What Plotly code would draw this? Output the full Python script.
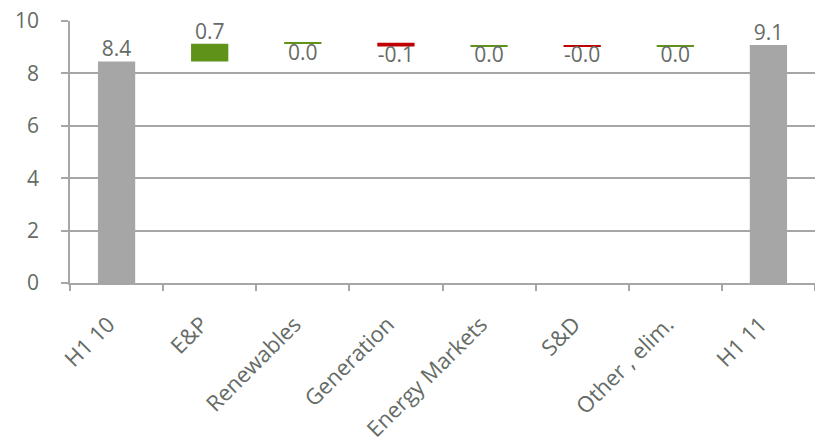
import numpy as np
import plotly.graph_objects as go

categories = ["H1 10", "E&P", "Renewables", "Generation", "Energy Markets", "S&D", "Other , elim.", "H1 11"]
values = [8.45, 0.68, 0.04, -0.14, 0.04, -0.03, 0.04, 9.08]
measures = ["absolute", "relative", "relative", "relative", "relative", "relative", "relative", "total"]

y_ticks = [0, 2, 4, 6, 8, 10]

GREY = "#a6a6a6"
GREEN = "#5f9219"
RED = "#c00000"
TEXT = "#656b66"
FONT = "Open Sans"

# compute bar extents for label placement
tops, bottoms = [], []
running = 0.0
for v, m in zip(values, measures):
    if m == "absolute":
        running = v
        tops.append(v); bottoms.append(0.0)
    elif m == "total":
        tops.append(running); bottoms.append(0.0)
    else:
        start = running
        running = running + v
        tops.append(max(start, running)); bottoms.append(min(start, running))

labels = [f"{v:.1f}" for v in values]

fig = go.Figure()
fig.add_trace(go.Waterfall(
    x=categories, y=values, measure=measures,
    width=0.4,
    increasing=dict(marker=dict(color=GREEN)),
    decreasing=dict(marker=dict(color=RED)),
    totals=dict(marker=dict(color=GREY)),
    connector=dict(visible=False),
    textposition="none",
    hoverinfo="skip",
))

# data labels: above the bar for large moves/totals, below for small moves
lab_y, lab_pos = [], []
for v, m, t, b in zip(values, measures, tops, bottoms):
    if m != "relative" or abs(v) >= 0.5:
        lab_y.append(t); lab_pos.append("top center")
    else:
        lab_y.append(b); lab_pos.append("bottom center")

fig.add_trace(go.Scatter(
    x=categories, y=lab_y, mode="text", text=labels,
    textposition=lab_pos,
    textfont=dict(family=FONT, size=21, color=TEXT),
    hoverinfo="skip", cliponaxis=False,
))

fig.update_layout(
    width=815, height=443,
    margin=dict(l=70, r=0, t=21, b=160, autoexpand=False),
    plot_bgcolor="white", paper_bgcolor="white",
    showlegend=False,
    font=dict(family=FONT, size=21, color=TEXT),
)
fig.update_xaxes(
    type="category",
    tickvals=categories,
    ticktext=[c + "\u00a0\u00a0" for c in categories],
    tickangle=-45,
    automargin=False,
    showline=True, linecolor=GREY, linewidth=1.5,
    ticks="outside", tickson="boundaries", ticklen=6, tickcolor=GREY, tickwidth=1.5,
    showgrid=False,
    tickfont=dict(family=FONT, size=22, color=TEXT),
    ticklabelstandoff=10,
)
fig.update_yaxes(
    range=[0, 10], tickvals=y_ticks,
    automargin=False,
    ticklabeloverflow="allow",
    showline=True, linecolor=GREY, linewidth=1.5,
    ticks="outside", ticklen=7, tickcolor=GREY, tickwidth=1.5,
    showgrid=True, gridcolor=GREY, gridwidth=1.5,
    zeroline=False,
    tickfont=dict(family=FONT, size=21, color=TEXT),
    ticklabelstandoff=18,
)

# remove the browser's default 8px body margin so the figure fills the window
fig.write_html(
    "out.html",
    config={"displayModeBar": False},
    post_script="document.body.style.margin='0';document.body.style.overflow='hidden';",
)
